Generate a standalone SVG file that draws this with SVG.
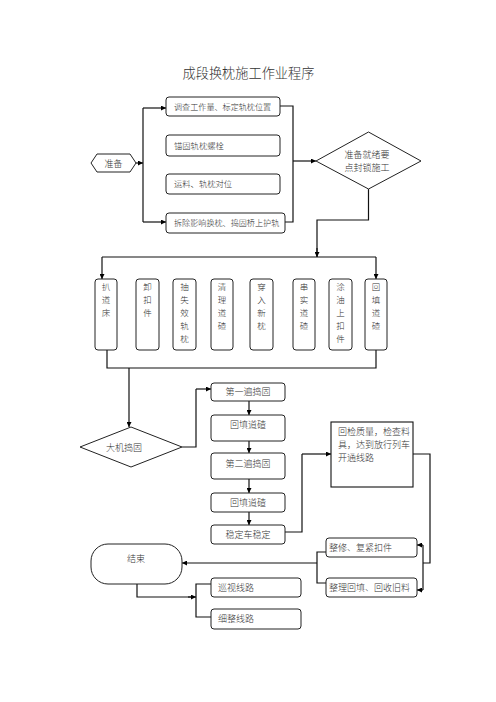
<svg xmlns="http://www.w3.org/2000/svg" width="496" height="702" viewBox="0 0 496 702">
<defs>
<marker id="ah" viewBox="0 0 10 10" refX="10" refY="5" markerWidth="5" markerHeight="5" orient="auto" markerUnits="userSpaceOnUse">
<path d="M0,0 L10,5 L0,10 z" fill="#000"/>
</marker>
<style>
.t{font-family:"Liberation Serif","Noto Sans CJK SC",serif;fill:#333;font-size:8.5px;font-weight:300}
.c{text-anchor:middle}
.box{fill:#fff;stroke:#222;stroke-width:1}
.ln{fill:none;stroke:#111;stroke-width:1.2}
.ar{fill:none;stroke:#111;stroke-width:1.2;marker-end:url(#ah)}
</style>
</defs>
<rect width="496" height="702" fill="#fff"/>
<text x="248.5" y="78" class="t c" style="font-size:13.2px">成段换枕施工作业程序</text>

<g id="connectors">
<path class="ar" d="M136,163 H143"/>
<path class="ln" d="M143,108 V222"/>
<path class="ar" d="M143,108 H166"/>
<path class="ar" d="M143,222 H166"/>
<path class="ln" d="M280,106 H293 V222 H285"/>
<path class="ar" d="M293,161 H316"/>
<path class="ln" d="M368.5,189 V220 H317 V257"/>
<path class="ar" d="M317,248 V257"/>
<path class="ln" d="M102,257 H376"/>
<path class="ar" d="M102,257 V279"/>
<path class="ar" d="M376,257 V279"/>
<path class="ln" d="M107,350 V368 H376 V350"/>
<path class="ar" d="M129,368 V427"/>
<path class="ln" d="M182,447 H196 V389"/>
<path class="ar" d="M196,389 H211"/>
<path class="ar" d="M249,401 V415"/>
<path class="ar" d="M249,441 V453"/>
<path class="ar" d="M249,479 V493"/>
<path class="ar" d="M249,512 V525"/>
<path class="ln" d="M285,532 H302 V454"/>
<path class="ar" d="M302,454 H331"/>
<path class="ln" d="M413,454 H430 V563 H423"/>
<path class="ln" d="M423,545 V590"/>
<path class="ar" d="M423,545 H417"/>
<path class="ar" d="M423,590 H417"/>
<path class="ln" d="M326,552 H317 V583 H326"/>
<path class="ar" d="M317,563 H182"/>
<path class="ln" d="M137,584 V597 H192"/>
<path class="ar" d="M188,597 H196"/>
<path class="ln" d="M211,584 H196 V617 H211"/>
</g>

<g id="n_prep">
<polygon class="box" points="91,163 97,154 130,154 136,163 130,172 97,172"/>
<text x="113.5" y="166.5" class="t c" style="font-size:9px">准备</text>
</g>
<g id="n_survey"><rect class="box" x="166" y="97" width="114" height="19" rx="3"/><text x="174" y="109.5" class="t" style="font-size:8.1px">调查工作量、标定轨枕位置</text></g>
<g id="n_anchor"><rect class="box" x="166" y="135" width="114" height="21" rx="3"/><text x="174" y="148.5" class="t" style="font-size:8.3px">锚固轨枕螺栓</text></g>
<g id="n_transport"><rect class="box" x="166" y="174" width="114" height="20" rx="3"/><text x="174" y="187" class="t" style="font-size:8.3px">运料、轨枕对位</text></g>
<g id="n_remove"><rect class="box" x="166" y="213" width="119" height="20" rx="3"/><text x="174" y="226" class="t" style="font-size:8.1px">拆除影响换枕、捣固桥上护轨</text></g>
<g id="n_ready"><polygon class="box" points="316,161 368.5,132 421,161 368.5,189"/>
<text x="367" y="158" class="t c" style="font-size:9px">准备就绪要</text>
<text x="367" y="171" class="t c" style="font-size:9px">点封锁施工</text></g>

<g id="n_a"><rect class="box" x="95" y="279" width="22" height="71" rx="3"/>
<text class="t c" x="106" y="290">扒</text><text class="t c" x="106" y="303">道</text><text class="t c" x="106" y="316">床</text></g>
<g id="n_b"><rect class="box" x="136" y="279" width="23" height="71" rx="3"/>
<text class="t c" x="147.5" y="290">卸</text><text class="t c" x="147.5" y="303">扣</text><text class="t c" x="147.5" y="316">件</text></g>
<g id="n_c"><rect class="box" x="173" y="279" width="23" height="71" rx="3"/>
<text class="t c" x="184.5" y="290">抽</text><text class="t c" x="184.5" y="303">失</text><text class="t c" x="184.5" y="316">效</text><text class="t c" x="184.5" y="329">轨</text><text class="t c" x="184.5" y="342">枕</text></g>
<g id="n_d"><rect class="box" x="211" y="279" width="22" height="71" rx="3"/>
<text class="t c" x="222" y="290">清</text><text class="t c" x="222" y="303">理</text><text class="t c" x="222" y="316">道</text><text class="t c" x="222" y="329">碴</text></g>
<g id="n_e"><rect class="box" x="250" y="279" width="23" height="71" rx="3"/>
<text class="t c" x="261.5" y="290">穿</text><text class="t c" x="261.5" y="303">入</text><text class="t c" x="261.5" y="316">新</text><text class="t c" x="261.5" y="329">枕</text></g>
<g id="n_f"><rect class="box" x="293" y="279" width="22" height="71" rx="3"/>
<text class="t c" x="304" y="290">串</text><text class="t c" x="304" y="303">实</text><text class="t c" x="304" y="316">道</text><text class="t c" x="304" y="329">碴</text></g>
<g id="n_g"><rect class="box" x="329" y="279" width="23" height="71" rx="3"/>
<text class="t c" x="340.5" y="290">涂</text><text class="t c" x="340.5" y="303">油</text><text class="t c" x="340.5" y="316">上</text><text class="t c" x="340.5" y="329">扣</text><text class="t c" x="340.5" y="342">件</text></g>
<g id="n_h"><rect class="box" x="365" y="279" width="22" height="71" rx="3"/>
<text class="t c" x="376" y="290">回</text><text class="t c" x="376" y="303">填</text><text class="t c" x="376" y="316">道</text><text class="t c" x="376" y="329">碴</text></g>

<g id="n_tamp"><polygon class="box" points="80,447 131,427 182,447 131,467"/>
<text x="124" y="451" class="t c" style="font-size:9px">大机捣固</text></g>
<g id="n_t1"><rect class="box" x="211" y="383" width="74" height="18" rx="3"/><text x="248" y="395" class="t c" style="font-size:9px">第一遍捣固</text></g>
<g id="n_f1"><rect class="box" x="211" y="415" width="74" height="26" rx="3"/><text x="248" y="428" class="t c" style="font-size:9px">回填道碴</text></g>
<g id="n_t2"><rect class="box" x="211" y="453" width="74" height="26" rx="3"/><text x="248" y="467" class="t c" style="font-size:9px">第二遍捣固</text></g>
<g id="n_f2"><rect class="box" x="211" y="493" width="74" height="19" rx="3"/><text x="248" y="505.5" class="t c" style="font-size:9px">回填道碴</text></g>
<g id="n_stab"><rect class="box" x="211" y="525" width="74" height="19" rx="3"/><text x="248" y="537.5" class="t c" style="font-size:9px">稳定车稳定</text></g>
<g id="n_check"><rect x="331" y="422" width="82" height="65" fill="#fff" stroke="#111" stroke-width="1.1"/>
<text x="338" y="435" class="t" style="font-size:9px">回检质量，检查料</text>
<text x="338" y="448" class="t" style="font-size:9px">具，达到放行列车</text>
<text x="338" y="461" class="t" style="font-size:9px">开通线路</text></g>
<g id="n_repair"><rect class="box" x="326" y="538" width="91" height="19" rx="3"/><text x="329" y="550.5" class="t" style="font-size:9px">整修、复紧扣件</text></g>
<g id="n_tidy"><rect class="box" x="326" y="578" width="91" height="19" rx="3"/><text x="329" y="590.5" class="t" style="font-size:9px">整理回填、回收旧料</text></g>
<g id="n_end"><rect class="box" x="91" y="544" width="91" height="40" rx="17"/><text x="136" y="562" class="t c" style="font-size:9px">结束</text></g>
<g id="n_patrol"><rect class="box" x="211" y="578" width="90" height="19" rx="3"/><text x="218" y="590.5" class="t" style="font-size:9px">巡视线路</text></g>
<g id="n_fine"><rect class="box" x="211" y="609" width="90" height="20" rx="3"/><text x="218" y="622" class="t" style="font-size:9px">细整线路</text></g>
</svg>
